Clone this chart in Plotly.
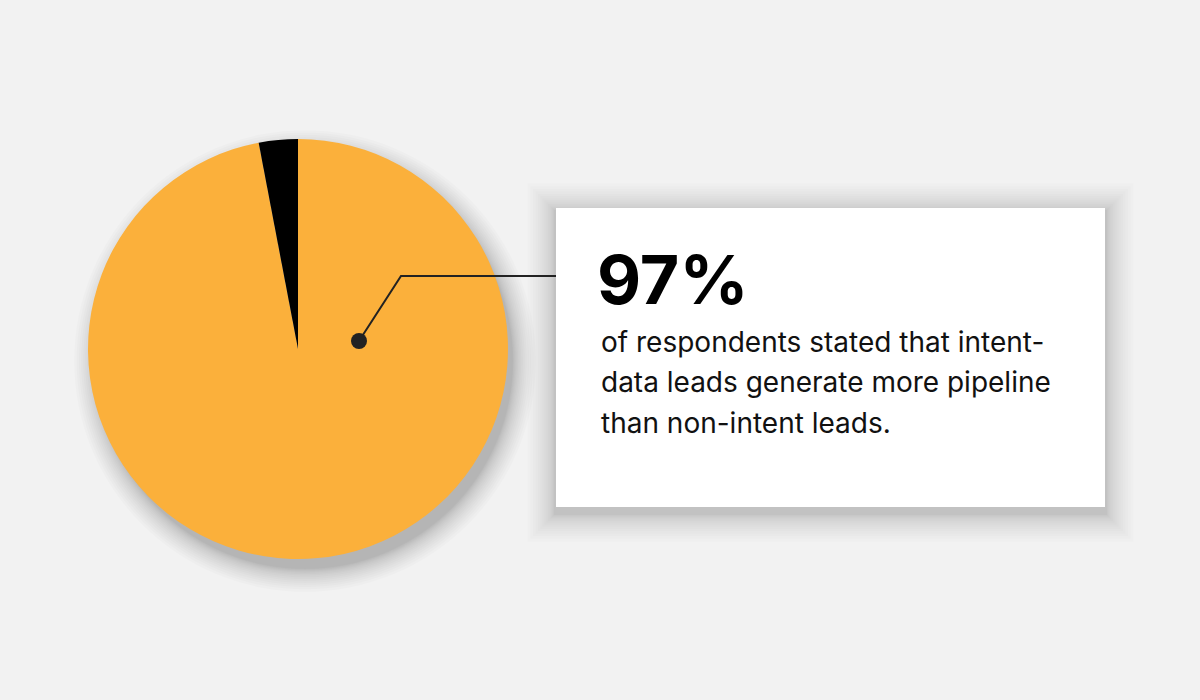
import plotly.graph_objects as go

W, H = 1200, 700

labels = ["Intent-data leads generate more pipeline", "Other"]
values = [97, 3]
colors = ["#FBB03B", "#000000"]

headline = "97%"
body_lines = [
    "of respondents stated that intent-",
    "data leads generate more pipeline",
    "than non-intent leads.",
]

def px(x):
    return x / W

def py(y):
    return 1 - y / H

# pie geometry (pixels)
cx, cy, r = 298, 349, 210

fig = go.Figure()
fig.add_trace(go.Pie(
    labels=labels, values=values, sort=False, direction="clockwise", rotation=0,
    marker=dict(colors=colors, line=dict(width=0)),
    textinfo="none", hoverinfo="label+percent", showlegend=False,
    domain=dict(x=[px(cx - r), px(cx + r)], y=[py(cy + r), py(cy - r)]),
))

shapes = []
# pie shadow (soft, offset down-right)
for i in range(16):
    rr = r - 2 + 0.3 * i ** 1.6
    ox, oy = 7, 12
    shapes.append(dict(type="circle", xref="paper", yref="paper", layer="below",
                       x0=px(cx + ox - rr), x1=px(cx + ox + rr),
                       y0=py(cy + oy + rr), y1=py(cy + oy - rr),
                       fillcolor="black", opacity=0.015, line=dict(width=0)))

# box with soft shadow
bx0, by0, bx1, by1 = 556, 208, 1105, 507
for i in range(16):
    s = 0.35 * i ** 1.6
    shapes.append(dict(type="rect", xref="paper", yref="paper", layer="below",
                       x0=px(bx0 - 2 - s), x1=px(bx1 + 2 + s),
                       y0=py(by1 + 8 + s), y1=py(by0 + 2 - s),
                       fillcolor="black", opacity=0.011, line=dict(width=0)))
shapes.append(dict(type="rect", xref="paper", yref="paper", layer="below",
                   x0=px(bx0), x1=px(bx1), y0=py(by1), y1=py(by0),
                   fillcolor="white", line=dict(width=0)))

# connector
path = "M {},{} L {},{} L {},{}".format(px(359), py(341), px(401), py(276), px(556), py(276))
shapes.append(dict(type="path", xref="paper", yref="paper", layer="above", path=path,
                   line=dict(color="#222222", width=2)))
dr = 8
shapes.append(dict(type="circle", xref="paper", yref="paper", layer="above",
                   x0=px(359 - dr), x1=px(359 + dr), y0=py(341 + dr), y1=py(341 - dr),
                   fillcolor="#222222", line=dict(width=0)))

annotations = [dict(text="<b>" + headline + "</b>", x=px(595), y=py(279), xref="paper", yref="paper",
                    xanchor="left", yanchor="middle", showarrow=False,
                    font=dict(family="Inter", size=68, color="#000000"))]
for i, line in enumerate(body_lines):
    annotations.append(dict(text=line, x=px(599), y=py(342 + 40.5 * i), xref="paper", yref="paper",
                            xanchor="left", yanchor="middle", showarrow=False,
                            font=dict(family="Inter", size=28, color="#111111")))

fig.update_layout(
    width=W, height=H, margin=dict(l=0, r=0, t=0, b=0),
    paper_bgcolor="#F2F2F2", plot_bgcolor="#F2F2F2",
    shapes=shapes, annotations=annotations, showlegend=False,
)

fig.write_html("out.html", config={"displayModeBar": False},
               post_script="document.body.style.margin='0';document.body.style.overflow='hidden';")
